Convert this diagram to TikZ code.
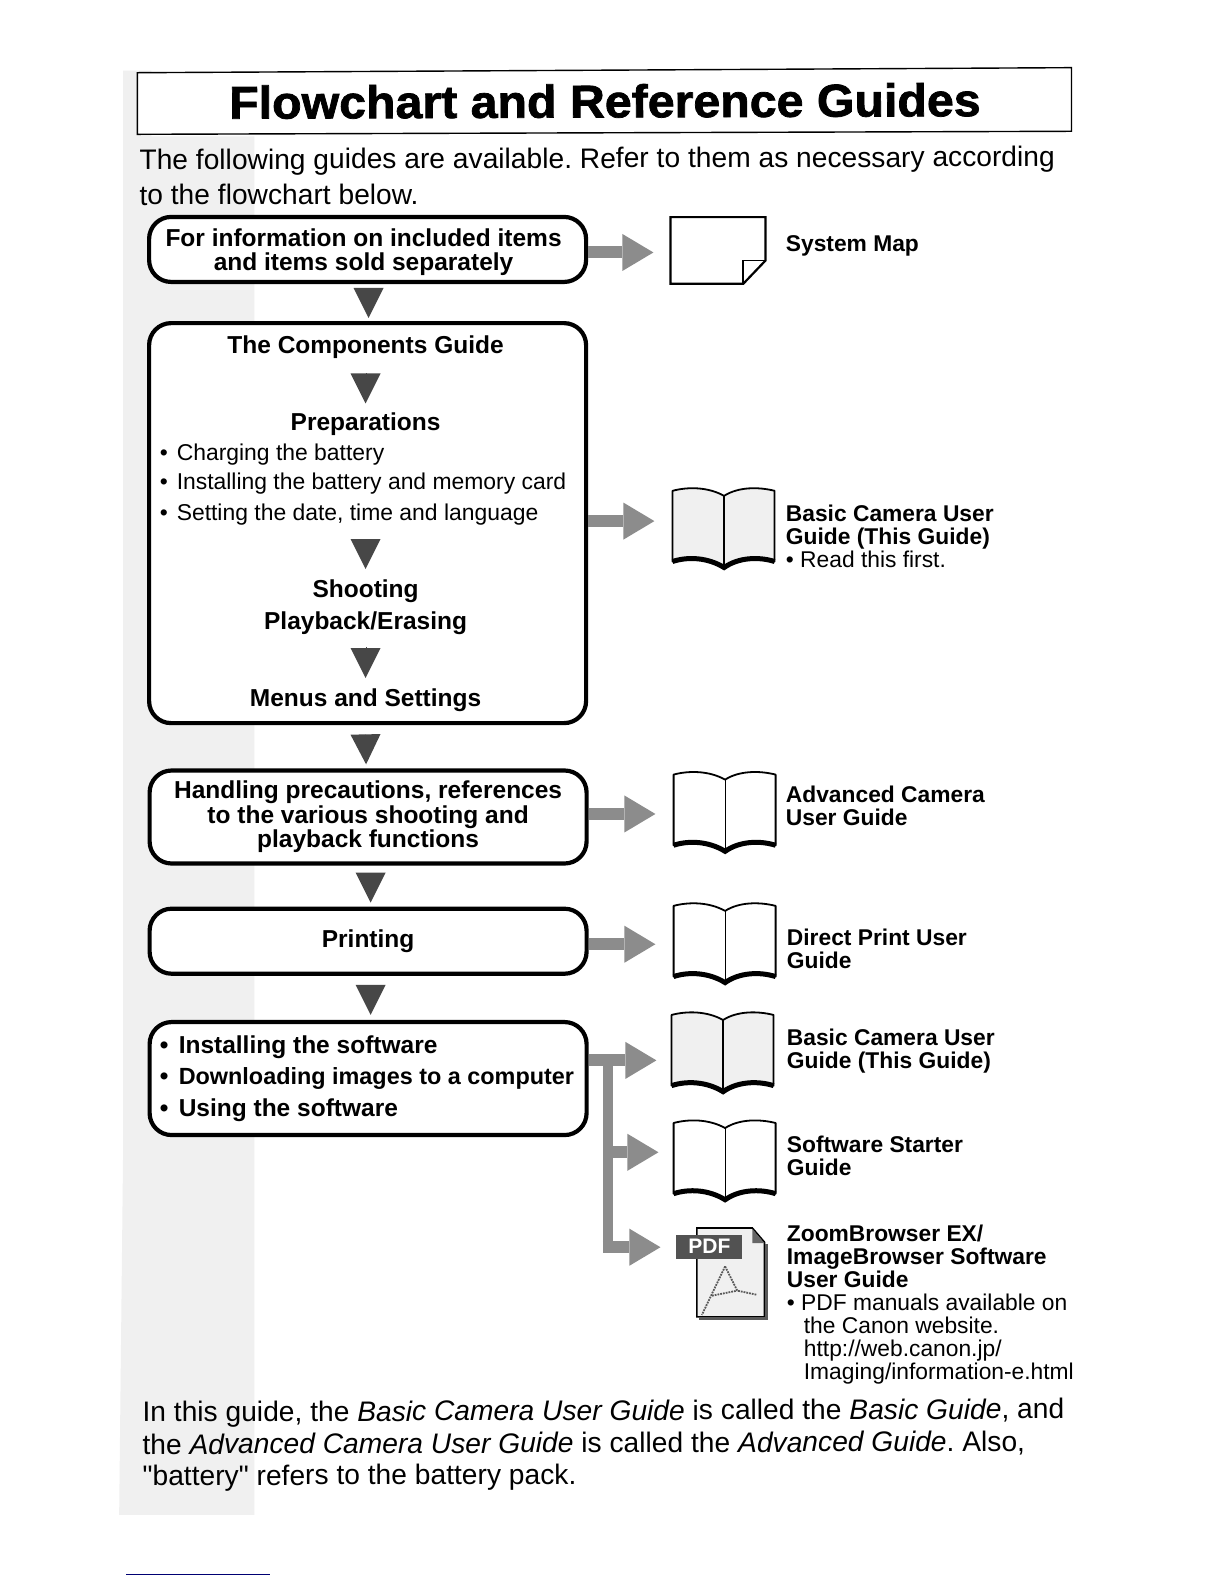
\documentclass[tikz,border=0pt]{standalone}
\usepackage{fontspec}
\setmainfont{Liberation Sans}
\newfontfamily\plainq{Liberation Sans}
\newfontfamily\titlefont{Liberation Sans}[BoldFeatures={FakeBold=1.6,FakeStretch=1.05}]
\frenchspacing
\usetikzlibrary{arrows.meta,calc}
\newcommand\fsz[2]{\fontsize{#1pt}{#2pt}\selectfont}
\newcommand\drawbook[3]{%
  \begin{scope}[shift={(#1,#2)}]
    \path[fill=#3,draw=black,line width=1.8pt,line join=round]
      (0,4) .. controls (15,0) and (35,0) .. (51,9) .. controls (65,0) and (85,0) .. (101,4)
      -- (101,74) .. controls (85,69) and (65,70) .. (51,80) .. controls (35,70) and (15,69) .. (0,74) -- cycle;
    \draw[line width=1.2pt] (51,9) -- (51,80);
    \draw[line width=5pt] (0,74) .. controls (15,69) and (35,70) .. (51,80) .. controls (65,70) and (85,69) .. (101,74);
  \end{scope}}
\tikzset{
  flowbox/.style={draw=black,fill=white,line width=4.2pt,rounded corners=22pt,inner sep=0pt,align=center,font=\bfseries\fsz{24.5}{24.5}},
  boldhead/.style={inner sep=0pt,font=\bfseries\fsz{24.5}{24.5}},
  bulletline/.style={inner sep=0pt,anchor=base west,font=\fsz{22.9}{22.9}},
  guidelabel/.style={inner sep=0pt,anchor=north west,align=left,font=\bfseries\fsz{22.8}{23}},
  bodytext/.style={inner sep=0pt,anchor=base west,rotate=0.2,font=\fsz{28.2}{28.2}},
  downtip/.style={draw=black!72,line width=0.1pt,-{Triangle[length=30pt,width=30pt,line width=0pt]}},
  greyline/.style={draw=black!45,line width=12pt},
  greyarrow/.style={greyline,-{Triangle[length=31pt,width=37pt,line width=0pt]}},
}
\begin{document}
\begin{tikzpicture}[x=1.0099pt,y=-1.0099pt]
\useasboundingbox (0,0) rectangle (1212,1568.5);
\fill[white] (0,0) rectangle (1212,1568.5);
% scanned shading strip
\fill[black!6] (122,70) -- (150,70) -- (150,135) -- (252,135) -- (252,1500) -- (118,1500) -- (122,1130) -- cycle;
% title
\draw[line width=1.4pt,fill=white] (136,72) coordinate (tl) -- (1061,67) coordinate (tr) -- (1061,130) coordinate (br) -- (136,133) coordinate (bl) -- cycle;
\node[inner sep=0pt,rotate=0.2,font=\titlefont\bfseries\fsz{46}{46}] (title) at (599,100) {Flowchart and Reference Guides};
% intro
\node[bodytext] (intro1) at (138,168) {The following guides are available. Refer to them as necessary according};
\node[bodytext] (intro2) at (138,203) {to the flowchart below.};
% flow boxes
\node[flowbox,minimum width=437pt,minimum height=65pt] (box1) at (364,247) {};
\node[boldhead,align=center] (box1text) at (360,249.5) {For information on included items\\and items sold separately};
\node[flowbox,minimum width=437pt,minimum height=400pt] (box2) at (364,518) {};
\node[flowbox,minimum width=437pt,minimum height=93pt] (box3) at (364.5,809) {Handling precautions, references\\to the various shooting and\\playback functions};
\node[flowbox,minimum width=437pt,minimum height=65pt] (box4) at (364.5,932) {Printing};
\node[flowbox,minimum width=437pt,minimum height=113pt] (box5) at (364.5,1068) {};
% box 2 contents
\node[boldhead] (comp) at (362,344) {The Components Guide};
\node[boldhead] (prep) at (362,420) {Preparations};
\node[bulletline] (b1) at (158,456) {\makebox[17pt][l]{•}Charging the battery};
\node[bulletline] (b2) at (158,485) {\makebox[17pt][l]{•}Installing the battery and memory card};
\node[bulletline] (b3) at (158,515) {\makebox[17pt][l]{•}Setting the date, time and language};
\node[boldhead] (shoot) at (362,585) {Shooting};
\node[boldhead] (play) at (362,617) {Playback/Erasing};
\node[boldhead] (menus) at (362,693) {Menus and Settings};
% box 5 contents
\node[boldhead,anchor=base west] (s1) at (158,1043) {\makebox[19pt][l]{•}Installing the software};
\node[boldhead,anchor=base west] (s2) at (158,1074) {\makebox[19pt][l]{•}\fsz{23.4}{23.4}Downloading images to a computer};
\node[boldhead,anchor=base west] (s3) at (158,1106) {\makebox[19pt][l]{•}Using the software};
% down triangles
\draw[downtip] ($(box1.south)+(1,8)$) -- ($(box2.north)+(1,-3)$);
\draw[downtip] ($(comp.south)+(0,14)$) -- ($(prep.north)+(0,-9)$);
\draw[downtip] ($(b3.south -| prep)+(0,20)$) -- ($(shoot.north)+(0,-10)$);
\draw[downtip] ($(play.south)+(0,12)$) -- ($(menus.north)+(0,-10)$);
\draw[downtip] ($(box2.south)+(-2,13)$) -- ($(box3.north)+(-2,-4)$);
\draw[downtip] ($(box3.south)+(2.5,12)$) -- ($(box4.north)+(2.5,-4)$);
\draw[downtip] ($(box4.south)+(2.5,12)$) -- ($(box5.north)+(2.5,-5)$);
% guide icons
\draw[line width=2.2pt,line join=miter] (664,215) -- (758,215) -- (758,258) -- (736,281) -- (664,281) -- cycle;
\draw[line width=1.6pt] (736,281) -- (736,258) -- (758,258);
\drawbook{666}{482}{black!6}
\drawbook{667}{763}{white}
\drawbook{667}{893}{white}
\drawbook{665}{1001}{black!6}
\drawbook{667}{1108}{white}
% PDF icon
\path[fill=black!6,draw=black,line width=1.6pt] (690,1216) -- (745,1216) -- (757,1230) -- (757,1304) -- (690,1304) -- cycle;
\draw[line width=3pt,black!65] (692,1306) -- (759,1306) -- (759,1232);
\fill[black!60] (745,1217) -- (745,1231) -- (757,1231) -- cycle;
\draw[black!65,line width=1.8pt,densely dotted] (718,1254) -- (695,1302);
\draw[black!65,line width=1.8pt,densely dotted] (718,1254) -- (730,1278) -- (749,1282);
\draw[black!65,line width=1.8pt,densely dotted] (705,1283) -- (730,1278);
\node[fill=black!68,text=white,inner sep=0pt,minimum width=66pt,minimum height=24pt,font=\bfseries\fsz{21}{21}] (pdf) at (702.5,1234.5) {PDF};
% targets of grey arrows
\coordinate (t1) at (647,250);
\coordinate (t2) at (648,516);
\coordinate (t3) at (649,806);
\coordinate (t4) at (649,935);
\coordinate (t5) at (650,1050);
\coordinate (t6) at (652,1141);
\coordinate (t7) at (654,1235);
\coordinate (j1) at (602,1050);
\coordinate (j2) at (602,1141);
\coordinate (j3) at (602,1235);
\draw[greyarrow] (box1.east |- t1) -- (t1);
\draw[greyarrow] (box2.east |- t2) -- (t2);
\draw[greyarrow] (box3.east |- t3) -- (t3);
\draw[greyarrow] (box4.east |- t4) -- (t4);
\draw[greyarrow] (box5.east |- t5) -- (t5);
\draw[greyline,line width=10pt] (j1) -- (j3);
\draw[greyarrow] (j2) -- (t6);
\draw[greyarrow] ($(j3)+(-5,0)$) -- (t7);
% guide labels
\node[guidelabel] (l1) at (778,233) {System Map};
\node[guidelabel] (l2) at (778,499.5) {Basic Camera User\\Guide (This Guide)\\\mdseries• Read this first.};
\node[guidelabel] (l3) at (778,778.5) {Advanced Camera\\User Guide};
\node[guidelabel] (l4) at (779,919.5) {Direct Print User\\Guide};
\node[guidelabel] (l5) at (779,1019) {Basic Camera User\\Guide (This Guide)};
\node[guidelabel] (l6) at (779,1124.5) {Software Starter\\Guide};
\node[guidelabel] (l7) at (779,1213) {ZoomBrowser EX/\\ImageBrowser Software\\User Guide\\\mdseries• PDF manuals available on\\\mdseries\hspace{17pt}the Canon website.\\\mdseries\hspace{17pt}http://web.canon.jp/\\\mdseries\hspace{17pt}Imaging/information-e.html};
% closing text
\node[bodytext] (end1) at (141,1408) {In this guide, the \emph{Basic Camera User Guide} is called the \emph{Basic Guide}, and};
\node[bodytext] (end2) at (141,1440) {the \emph{Advanced Camera User Guide} is called the \emph{Advanced Guide}. Also,};
\node[bodytext] (end3) at (141,1471) {{\plainq"}battery{\plainq"} refers to the battery pack.};
% stray rule at page foot
\draw[draw=blue!45!black,line width=1.4pt] (125,1559) coordinate (r1) -- (267,1559) coordinate (r2);
\end{tikzpicture}
\end{document}
